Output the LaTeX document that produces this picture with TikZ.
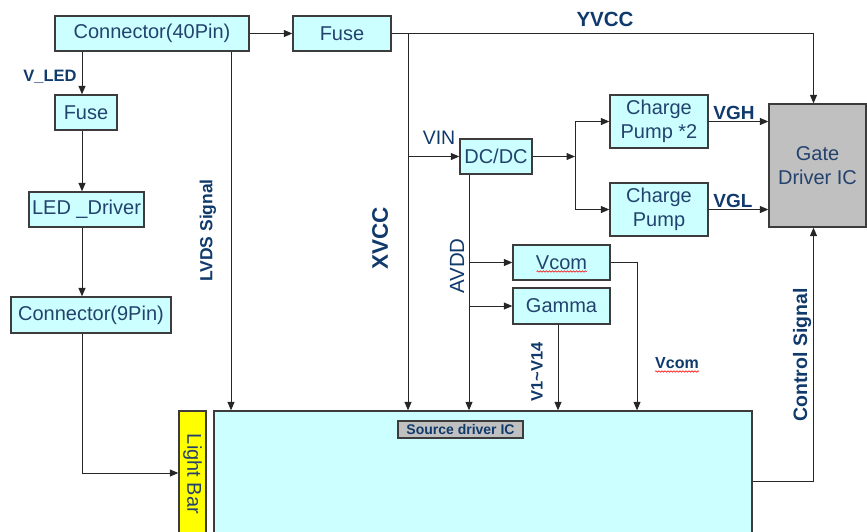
\documentclass[tikz,border=0pt]{standalone}
\usepackage{fontspec}
\setmainfont{Liberation Sans}
\usetikzlibrary{arrows.meta,decorations.pathmorphing}
\definecolor{aqua}{HTML}{CCFFFF}
\definecolor{frame}{HTML}{3C3C3C}
\definecolor{ink}{HTML}{24426E}
\definecolor{navy}{HTML}{103A6C}
\definecolor{chip}{HTML}{C0C0C0}
\definecolor{lamp}{HTML}{FFFF00}
\tikzset{
  blk/.style={draw=frame,line width=1.3pt,fill=aqua,text=ink,inner sep=0pt,
    font=\fontsize{20}{24.5}\selectfont,align=center},
  sig/.style={draw=black!85,line width=1pt,-{Triangle[length=8.5pt,width=7pt]}},
  lbl/.style={text=navy,inner sep=0pt,font=\bfseries\fontsize{17}{20}\selectfont},
  wavy/.style={red,line width=0.6pt,decorate,decoration={snake,amplitude=0.7pt,segment length=3pt}}
}

\begin{document}
\begin{tikzpicture}[x=1pt,y=-1pt]
\clip (0,0) rectangle (867,531);
% boxes
\node[blk,minimum width=194pt,minimum height=35pt] (con40) at (152,33.5) {Connector(40Pin)};
\node[blk,minimum width=98pt,minimum height=35pt] (fuseT) at (342,33.5) {Fuse};
\node[blk,minimum width=62pt,minimum height=35pt] (fuseL) at (86,112.5) {Fuse};
\node[blk,minimum width=115pt,minimum height=35pt] (drv) at (86.5,209.5) {LED \_Driver};
\node[blk,minimum width=160pt,minimum height=36pt] (con9) at (91,315) {Connector(9Pin)};
\node[blk,fill=lamp,minimum width=27pt,minimum height=130pt] (lbar) at (192.5,476) {};
\node[text=ink,rotate=-90,font=\fontsize{20}{24}\selectfont] (lbartxt) at (192.5,474) {Light Bar};
\node[blk,minimum width=538pt,minimum height=130pt] (src) at (483,476) {};
\node[draw=frame,line width=1.2pt,fill=chip,text=navy,inner sep=0pt,
  font=\bfseries\fontsize{14}{16}\selectfont,minimum width=125pt,minimum height=17pt] (srclbl) at (460.5,429.5) {Source driver IC};
\node[blk,minimum width=72pt,minimum height=35pt] (dcdc) at (496,156.5) {DC/DC};
\node[blk,minimum width=98pt,minimum height=53pt] (cp2) at (659,121.5) {Charge\\Pump *2};
\node[blk,minimum width=98pt,minimum height=53pt] (cp) at (659,209.5) {Charge\\Pump};
\node[blk,fill=chip,minimum width=97pt,minimum height=123pt] (gate) at (817.5,165.5) {Gate\\Driver IC};
\node[blk,minimum width=97pt,minimum height=35pt] (vcom) at (561.5,262.5) {Vcom};
\node[blk,minimum width=97pt,minimum height=36pt] (gamma) at (561.5,306) {Gamma};
\draw[wavy] ([shift={(-25,9)}]vcom.center) -- ([shift={(25,9)}]vcom.center);

% line positions
\coordinate (ledx) at (82,0);
\coordinate (lvds) at (231,0);
\coordinate (xv) at (408,0);
\coordinate (av) at (469,0);
\coordinate (sp) at (575,0);
\coordinate (gm) at (558,0);
\coordinate (vc) at (637,0);
\coordinate (gx) at (813.5,0);
\coordinate (lb) at (0,473);
\coordinate (cs) at (0,481);

% connectors
\draw[sig] (con40) -- (fuseT);
\draw[sig] (con40.south -| ledx) -- (fuseL.north -| ledx);
\draw[sig] (fuseL.south -| ledx) -- (drv.north -| ledx);
\draw[sig] (drv.south -| ledx) -- (con9.north -| ledx);
\draw[sig] (con9.south -| ledx) |- (lbar.west |- lb);
\draw[sig] (con40.south -| lvds) -- (src.north -| lvds);
\draw[sig] (fuseT.east) -| (gate.north -| gx);
\draw[sig] (fuseT.east -| xv) -- (src.north -| xv);
\draw[sig] (dcdc.west -| xv) -- (dcdc.west);
\draw[sig] (dcdc.east) -- (dcdc.east -| sp);
\draw[sig] (dcdc.east -| sp) |- (cp2.west);
\draw[sig] (dcdc.east -| sp) |- (cp.west);
\draw[sig] (cp2.east) -- (cp2.east -| gate.west);
\draw[sig] (cp.east) -- (cp.east -| gate.west);
\draw[sig] (dcdc.south -| av) -- (src.north -| av);
\draw[sig] (vcom.west -| av) -- (vcom.west);
\draw[sig] (gamma.west -| av) -- (gamma.west);
\draw[sig] (gamma.south -| gm) -- (src.north -| gm);
\draw[sig] (vcom.east) -| (src.north -| vc);
\draw[sig] (src.east |- cs) -| (gate.south -| gx);

% labels
\node[lbl,font=\bfseries\fontsize{16.5}{20}\selectfont] (vled) at (50,77) {V\_LED};
\node[lbl,font=\bfseries\fontsize{20.5}{24}\selectfont] (yvcc) at (605,19.5) {YVCC};
\node[lbl,rotate=90,font=\bfseries\fontsize{22.5}{24}\selectfont] (xvcc) at (380,238) {XVCC};
\node[lbl,rotate=90,font=\bfseries\fontsize{17.5}{20}\selectfont] (lvdslbl) at (208,230.5) {LVDS Signal};
\node[lbl,font=\fontsize{19.5}{22}\selectfont] (vin) at (439,138) {VIN};
\node[lbl,rotate=90,font=\fontsize{20.5}{22}\selectfont] (avdd) at (457,266) {AVDD};
\node[lbl,rotate=90,font=\bfseries\fontsize{16.5}{20}\selectfont] (v14) at (537,372) {V1\textasciitilde V14};
\node[lbl,font=\bfseries\fontsize{19}{22}\selectfont] (vgh) at (734,113) {VGH};
\node[lbl,font=\bfseries\fontsize{19}{22}\selectfont] (vgl) at (733,201) {VGL};
\node[lbl,font=\bfseries\fontsize{16}{20}\selectfont] (vcomlbl) at (677,363) {Vcom};
\draw[wavy] ([yshift=-3pt]vcomlbl.base west) -- ([yshift=-3pt]vcomlbl.base east);
\node[lbl,rotate=90,font=\bfseries\fontsize{19.5}{22}\selectfont] (ctrl) at (802,355) {Control Signal};
\end{tikzpicture}
\end{document}
